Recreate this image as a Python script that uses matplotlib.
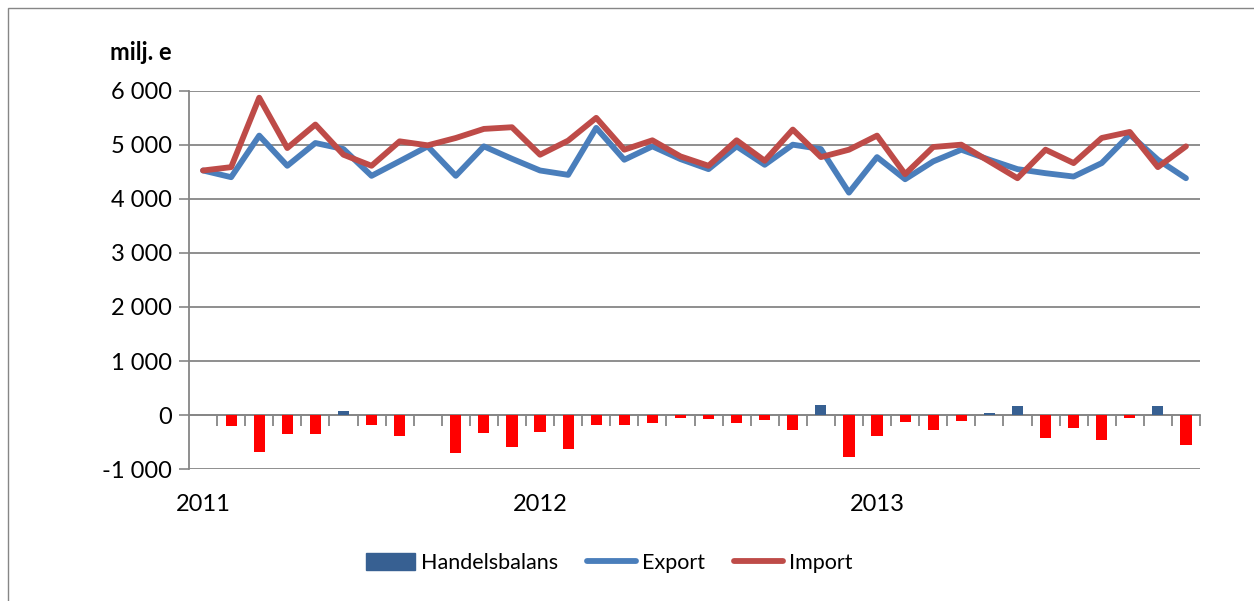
import matplotlib.pyplot as plt
from matplotlib.patches import Rectangle, Patch
from matplotlib.lines import Line2D
import numpy as np

plt.rcParams['font.family'] = ['Lato', 'DejaVu Sans']

# monthly data, Jan 2011 - Dec 2013 (milj. e)
months = [f"{y}-{m:02d}" for y in (2011, 2012, 2013) for m in range(1, 13)]
year_labels = ["2011", "2012", "2013"]

export = [4528, 4404, 5174, 4615, 5037, 4925, 4429, 4700, 4975, 4429, 4975, 4745,
          4528, 4447, 5317, 4727, 4975, 4739, 4553, 4975, 4634, 5006, 4925, 4118,
          4776, 4366, 4696, 4913, 4727, 4553, 4478, 4416, 4665, 5193, 4727, 4385]
imports = [4528, 4590, 5876, 4944, 5379, 4820, 4615, 5068, 4994, 5130, 5298, 5329,
           4820, 5081, 5503, 4913, 5087, 4789, 4615, 5087, 4708, 5286, 4776, 4913,
           5174, 4460, 4963, 5006, 4696, 4385, 4913, 4665, 5130, 5242, 4590, 4975]
balance = [0, -196, -693, -343, -343, 80, -178, -380, 0, -712, -325, -601,
           -307, -638, -178, -178, -141, -49, -67, -141, -86, -270, 178, -785,
           -380, -123, -270, -104, 37, 160, -417, -233, -472, -49, 160, -564]

grid_col = "#868686"
pos_col = "#376092"
neg_col = "#FF0000"
exp_col = "#4A7EBB"
imp_col = "#BE4B48"

fig = plt.figure(figsize=(12.54, 6.01), dpi=100)
ax = fig.add_axes([189 / 1254, 1 - 469 / 601, (1200 - 189) / 1254, (469 - 91) / 601])

# chart border
fig.add_artist(Rectangle((8 / 1254, -0.1), 1.2, 1.1 - 8 / 601, transform=fig.transFigure,
                         fill=False, edgecolor=grid_col, lw=1.0))

x = np.arange(len(months))
bal = np.array(balance)
ax.bar(x, bal, width=0.4, color=np.where(bal >= 0, pos_col, neg_col), zorder=2)
ax.plot(x, export, color=exp_col, lw=4.2, solid_capstyle='round', solid_joinstyle='round', zorder=3)
ax.plot(x, imports, color=imp_col, lw=4.2, solid_capstyle='round', solid_joinstyle='round', zorder=4)

ax.set_xlim(-0.5, len(months) - 0.5)
ax.set_ylim(-1000, 6000)
yt = np.arange(-1000, 6001, 1000)
ax.set_yticks(yt)
ax.set_yticklabels([f"{v:,}".replace(",", " ") for v in yt], fontsize=17)
ax.tick_params(axis='y', length=7, color=grid_col, width=1.2, pad=5)
ax.grid(axis='y', color=grid_col, lw=1.3, zorder=0)

ax.set_xticks([0, 12, 24])
ax.set_xticklabels(year_labels, fontsize=17)
ax.tick_params(axis='x', length=0, pad=18)

for s in ("top", "right", "bottom"):
    ax.spines[s].set_visible(False)
ax.spines["left"].set_color(grid_col)
ax.spines["left"].set_linewidth(1.3)

# category axis crossing at zero
sec = ax.secondary_xaxis(1 / 7)
sec.set_xticks(np.arange(0.5, len(months), 1.0))
sec.set_xticklabels([])
sec.tick_params(axis='x', length=8, color=grid_col, width=1.3, direction='out')
sec.spines["bottom"].set_color(grid_col)
sec.spines["bottom"].set_linewidth(1.3)

fig.text(110 / 1254, 1 - 52 / 601, "milj. e", fontsize=17, fontweight='bold', va='center')

handles = [Patch(facecolor=pos_col, edgecolor=pos_col),
           Line2D([], [], color=exp_col, lw=4.2, solid_capstyle='round'),
           Line2D([], [], color=imp_col, lw=4.2, solid_capstyle='round')]
fig.legend(handles, ["Handelsbalans", "Export", "Import"], loc='center',
           bbox_to_anchor=(609 / 1254, 1 - 563 / 601), ncol=3, frameon=False,
           fontsize=15.5, handlelength=2.3, handleheight=0.8, handletextpad=0.25,
           columnspacing=1.35)

fig.savefig("out.png", dpi=100)
